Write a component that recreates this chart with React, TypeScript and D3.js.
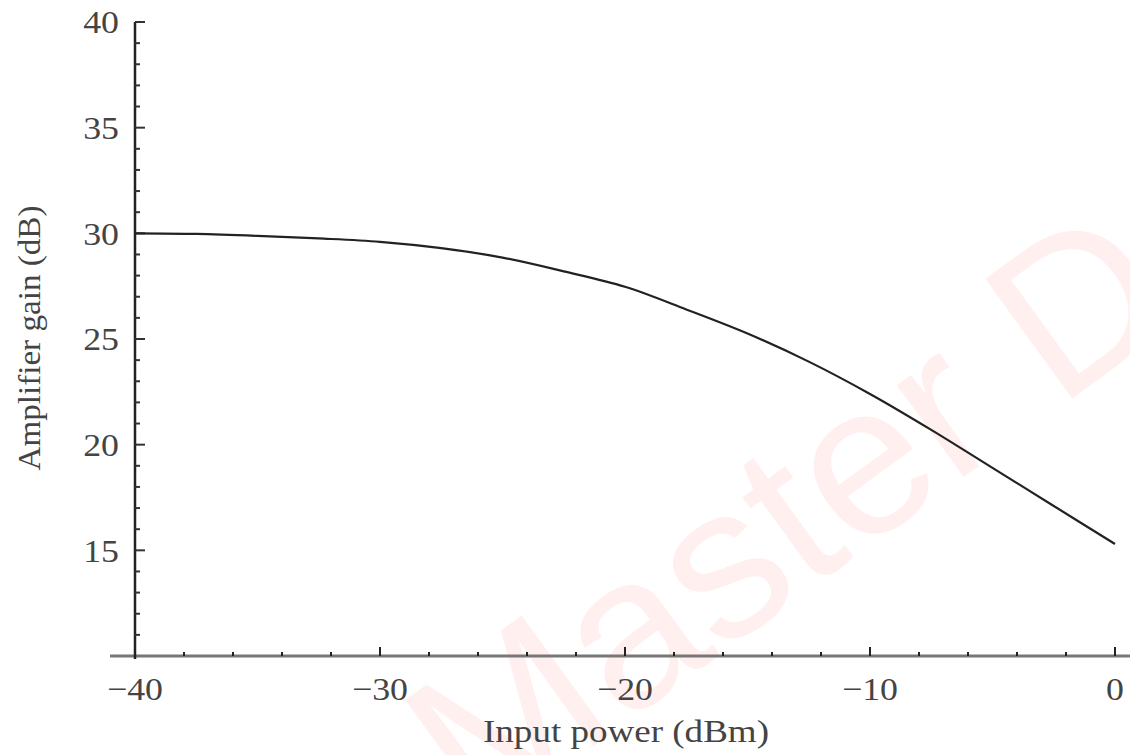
import React from 'react';
import * as d3 from 'd3';

// input power (dBm) and amplifier gain (dB)
const inputPower = [-40, -37.5, -35, -32.5, -30, -27.5, -25, -22.5, -20, -17.5, -15, -12.5, -10, -7.5, -5, -2.5, 0];
const gainDb = [30.0, 29.97, 29.88, 29.76, 29.6, 29.3, 28.85, 28.2, 27.47, 26.4, 25.26, 23.93, 22.4, 20.7, 18.9, 17.1, 15.3];

const xMajor = [-40, -30, -20, -10, 0];
const xMinor = [-38, -36, -34, -32, -28, -26, -24, -22, -18, -16, -14, -12, -8, -6, -4, -2];
const yMajor = [15, 20, 25, 30, 35, 40];
const yMinor = d3.range(11, 40).filter(v => v % 5 !== 0);

const xTitle = 'Input power (dBm)';
const yTitle = 'Amplifier gain (dB)';
const watermark = 'Master D';

const W = 1130;
const H = 755;
const font = '"Liberation Serif", "DejaVu Serif", serif';

const fmt = (v: number) => (v < 0 ? '\u2212' + Math.abs(v) : String(v));

export default function App() {
  const x = d3.scaleLinear().domain([-40, 0]).range([135, 1115]);
  const y = d3.scaleLinear().domain([10, 40]).range([656, 22]);

  const line = d3.line<number>()
    .x((_, i) => x(inputPower[i]))
    .y(d => y(d))
    .curve(d3.curveCatmullRom.alpha(0.5));

  return (
    <svg width={W} height={H} style={{ position: 'absolute', left: 0, top: 0, background: '#fff' }}>
      {/* faint watermark, runs off the page like in the original */}
      <text
        x={0}
        y={0}
        transform="translate(478,830) rotate(-36)"
        fontFamily='"Liberation Sans", Arial, sans-serif'
        fontSize={215}
        fill="#ff2020"
        fillOpacity={0.07}
      >
        {watermark}
      </text>

      {/* x axis */}
      <line x1={110} x2={W} y1={y(10)} y2={y(10)} stroke="#777" strokeWidth={3} />
      {xMajor.map(v => (
        <g key={'xm' + v}>
          <line x1={x(v)} x2={x(v)} y1={y(10)} y2={y(10) - 9} stroke="#222" strokeWidth={2} />
          <text
            x={x(v)}
            y={700}
            textAnchor="middle"
            fontFamily={font}
            fontSize={32}
            fill="#444"
            transform={`translate(${x(v)},0) scale(1.12,1) translate(${-x(v)},0)`}
          >
            {fmt(v)}
          </text>
        </g>
      ))}
      {xMinor.map(v => (
        <line key={'xn' + v} x1={x(v)} x2={x(v)} y1={y(10)} y2={y(10) - 4} stroke="#222" strokeWidth={2} />
      ))}

      {/* y axis */}
      <line x1={x(-40)} x2={x(-40)} y1={y(40)} y2={y(10) + 3} stroke="#222" strokeWidth={2.5} />
      {yMajor.map(v => (
        <g key={'ym' + v}>
          <line x1={x(-40)} x2={x(-40) + 10} y1={y(v)} y2={y(v)} stroke="#333" strokeWidth={2} />
          <text
            x={119}
            y={y(v)}
            dy="0.35em"
            textAnchor="end"
            fontFamily={font}
            fontSize={32}
            fill="#444"
            transform={`translate(119,0) scale(1.12,1) translate(-119,0)`}
          >
            {v}
          </text>
        </g>
      ))}
      {yMinor.map(v => (
        <line key={'yn' + v} x1={x(-40)} x2={x(-40) + 5} y1={y(v)} y2={y(v)} stroke="#333" strokeWidth={2} />
      ))}

      {/* curve */}
      <path d={line(gainDb) || ''} fill="none" stroke="#222" strokeWidth={2.2} />

      {/* titles */}
      <text
        x={626}
        y={742}
        textAnchor="middle"
        fontFamily={font}
        fontSize={32}
        fill="#444"
        textLength={286}
        lengthAdjust="spacingAndGlyphs"
      >
        {xTitle}
      </text>
      <text
        transform="translate(40,338) rotate(-90)"
        textAnchor="middle"
        fontFamily={font}
        fontSize={32}
        fill="#444"
        textLength={265}
        lengthAdjust="spacingAndGlyphs"
      >
        {yTitle}
      </text>
    </svg>
  );
}
